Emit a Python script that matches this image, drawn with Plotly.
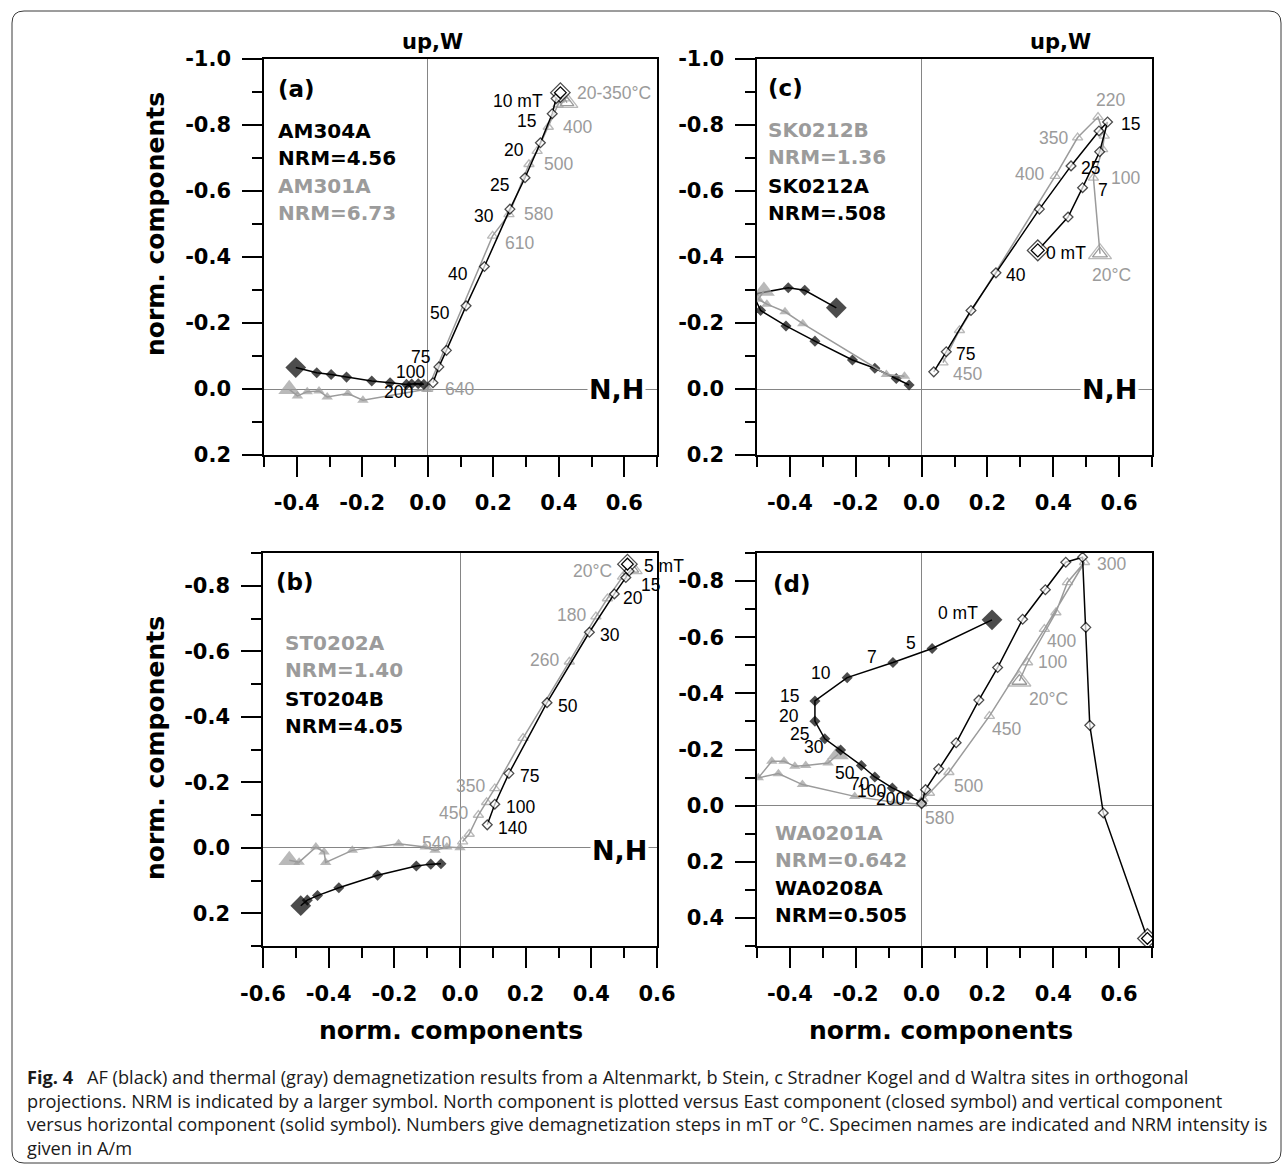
import numpy as np
import plotly.graph_objects as go

# ---------------------------------------------------------------- data
# (a) Altenmarkt: AF specimen AM304A (black), thermal specimen AM301A (gray)
a_af_h_x = [-0.403, -0.339, -0.295, -0.248, -0.171, -0.115, -0.065, -0.049, -0.029, -0.012]
a_af_h_y = [-0.065, -0.049, -0.044, -0.036, -0.024, -0.019, -0.014, -0.015, -0.016, -0.014]
a_af_v_x = [0.405, 0.392, 0.380, 0.344, 0.297, 0.251, 0.173, 0.117, 0.057, 0.034, 0.016]
a_af_v_y = [-0.898, -0.880, -0.834, -0.746, -0.640, -0.545, -0.371, -0.252, -0.117, -0.067, -0.019]
a_af_steps = ["", "10 mT", "15", "20", "25", "30", "40", "50", "75", "100", "200"]
a_th_h_x = [-0.423, -0.398, -0.368, -0.332, -0.307, -0.244, -0.198, -0.004]
a_th_h_y = [0.001, 0.021, 0.008, 0.006, 0.024, 0.014, 0.034, 0.001]
a_th_v_x = [0.425, 0.418, 0.410, 0.402, 0.398, 0.368, 0.334, 0.309, 0.248, 0.198, 0.000]
a_th_v_y = [-0.868, -0.880, -0.889, -0.876, -0.862, -0.794, -0.721, -0.681, -0.529, -0.464, 0.000]
a_th_steps = ["20-350°C", "", "", "", "", "400", "", "500", "580", "610", "640"]

# (c) Stradner Kogel: AF specimen SK0212A (black), thermal specimen SK0212B (gray)
c_af_h_x = [-0.259, -0.355, -0.405, -0.512, -0.489, -0.412, -0.324, -0.210, -0.142, -0.077, -0.038]
c_af_h_y = [-0.246, -0.299, -0.307, -0.287, -0.238, -0.191, -0.145, -0.088, -0.063, -0.032, -0.012]
c_af_v_x = [0.353, 0.445, 0.489, 0.541, 0.565, 0.539, 0.454, 0.358, 0.226, 0.150, 0.075, 0.037]
c_af_v_y = [-0.420, -0.521, -0.610, -0.719, -0.809, -0.782, -0.676, -0.545, -0.352, -0.238, -0.113, -0.052]
c_af_steps = ["0 mT", "", "7", "", "15", "", "25", "", "40", "", "75", ""]
c_th_h_x = [-0.479, -0.496, -0.470, -0.415, -0.361, -0.107, -0.052]
c_th_h_y = [-0.297, -0.272, -0.257, -0.234, -0.198, -0.044, -0.039]
c_th_v_x = [0.542, 0.522, 0.550, 0.555, 0.536, 0.474, 0.406, 0.115, 0.065]
c_th_v_y = [-0.410, -0.640, -0.726, -0.767, -0.824, -0.762, -0.645, -0.178, -0.080]
c_th_steps = ["20°C", "100", "", "", "220", "350", "400", "", "450"]

# (b) Stein: AF specimen ST0204B (black), thermal specimen ST0202A (gray)
b_af_h_x = [-0.485, -0.465, -0.434, -0.369, -0.251, -0.133, -0.089, -0.058]
b_af_h_y = [0.177, 0.160, 0.146, 0.122, 0.084, 0.056, 0.050, 0.049]
b_af_v_x = [0.510, 0.515, 0.505, 0.470, 0.394, 0.265, 0.149, 0.106, 0.083]
b_af_v_y = [-0.866, -0.845, -0.825, -0.775, -0.658, -0.443, -0.227, -0.133, -0.070]
b_af_steps = ["5 mT", "", "15", "20", "30", "50", "75", "100", "140"]
b_th_h_x = [-0.520, -0.490, -0.439, -0.414, -0.409, -0.328, -0.187, -0.106, -0.076, -0.040, 0.000]
b_th_h_y = [0.038, 0.044, -0.002, 0.013, 0.045, 0.008, -0.012, -0.002, 0.008, -0.002, 0.000]
b_th_v_x = [0.525, 0.495, 0.449, 0.414, 0.333, 0.192, 0.106, 0.081, 0.056, 0.028, 0.008]
b_th_v_y = [-0.850, -0.827, -0.761, -0.706, -0.568, -0.335, -0.181, -0.139, -0.100, -0.042, -0.019]
b_th_steps = ["20°C", "", "", "180", "260", "", "350", "", "450", "", "540"]

# (d) Waltra: AF specimen WA0208A (black), thermal specimen WA0201A (gray)
d_af_h_x = [0.214, 0.032, -0.087, -0.226, -0.324, -0.324, -0.294, -0.246, -0.183, -0.142, -0.089, -0.041, 0.000]
d_af_h_y = [-0.662, -0.560, -0.510, -0.456, -0.373, -0.301, -0.238, -0.198, -0.143, -0.102, -0.063, -0.036, -0.010]
d_af_steps = ["0 mT", "5", "7", "10", "15", "20", "25", "30", "50", "70", "100", "200", ""]
d_af_v_x = [0.686, 0.552, 0.511, 0.499, 0.489, 0.438, 0.376, 0.307, 0.231, 0.174, 0.105, 0.052, 0.012, 0.000]
d_af_v_y = [0.473, 0.026, -0.286, -0.635, -0.885, -0.867, -0.769, -0.664, -0.492, -0.376, -0.224, -0.131, -0.057, -0.007]
d_th_h_x = [-0.254, -0.284, -0.352, -0.385, -0.418, -0.455, -0.496, -0.435, -0.362, -0.203, -0.085, 0.000]
d_th_h_y = [-0.182, -0.152, -0.143, -0.140, -0.158, -0.158, -0.099, -0.114, -0.075, -0.033, -0.012, -0.005]
d_th_v_x = [0.297, 0.322, 0.408, 0.443, 0.495, 0.373, 0.206, 0.083, 0.024, 0.004]
d_th_v_y = [-0.444, -0.510, -0.688, -0.795, -0.867, -0.629, -0.319, -0.119, -0.045, -0.024]
d_th_steps = ["20°C", "100", "", "", "300", "400", "450", "500", "", "580"]

caption_lines = [
    "<b>Fig. 4</b>\u2002 AF (black) and thermal (gray) demagnetization results from a Altenmarkt, b Stein, c Stradner Kogel and d Waltra sites in orthogonal",
    "projections. NRM is indicated by a larger symbol. North component is plotted versus East component (closed symbol) and vertical component",
    "versus horizontal component (solid symbol). Numbers give demagnetization steps in mT or °C. Specimen names are indicated and NRM intensity is",
    "given in A/m",
]

# ---------------------------------------------------------------- layout helpers
W, H = 1284, 1166
BLACK = "#000000"
GRAY = "#9b9b9b"
FONT = "Liberation Sans, Arial, sans-serif"
BOLD = "DejaVu Sans, Liberation Sans, sans-serif"
CAPTION_FONT = "Open Sans, Noto Sans, sans-serif"


def fx(p):
    return p / W


def fy(p):
    return 1 - p / H


# panel key -> axis suffix, pixel box, x range, y range (top value first)
panels = {
    "a": dict(ax="", xp=(264, 657), yp=(59, 455), xr=(-0.5, 0.7), yr=(-1.0, 0.2)),
    "c": dict(ax="2", xp=(757, 1152), yp=(59, 455), xr=(-0.5, 0.7), yr=(-1.0, 0.2)),
    "b": dict(ax="3", xp=(263, 657), yp=(553, 946), xr=(-0.6, 0.6), yr=(-0.9, 0.3)),
    "d": dict(ax="4", xp=(757, 1152), yp=(553, 946), xr=(-0.5, 0.7), yr=(-0.9, 0.5)),
}


def ticks(lo, hi, step):
    n0 = int(np.ceil(round(lo / step, 6)))
    n1 = int(np.floor(round(hi / step, 6)))
    return [round(k * step, 2) for k in range(n0, n1 + 1)]


def fmt(v):
    s = f"{v:.1f}"
    return "0.0" if s == "-0.0" else s


fig = go.Figure()

tickfont = dict(family=BOLD, size=21, color=BLACK, weight="bold")
for key, p in panels.items():
    ax = p["ax"]
    common = dict(
        showline=True, mirror=True, linecolor=BLACK, linewidth=1.5,
        ticks="outside", ticklen=20, tickwidth=1.5, tickcolor=BLACK,
        tickfont=tickfont, showgrid=False, automargin=False,
        zeroline=True, zerolinecolor="#858585", zerolinewidth=1,
    )
    xmaj = ticks(p["xr"][0], p["xr"][1], 0.2)
    ymaj = ticks(p["yr"][0], p["yr"][1], 0.2)
    xmin = ticks(p["xr"][0], p["xr"][1], 0.1)
    ymin = ticks(p["yr"][0], p["yr"][1], 0.1)
    minor = dict(ticks="outside", ticklen=10, tickwidth=1.5, tickcolor=BLACK, showgrid=False)
    fig.layout[f"xaxis{ax}"] = dict(
        common, domain=[fx(p["xp"][0]), fx(p["xp"][1])], range=list(p["xr"]),
        anchor=f"y{ax}", tickmode="array", tickvals=xmaj, ticktext=[fmt(v) for v in xmaj],
        minor=dict(minor, tickmode="array", tickvals=xmin), ticklabelstandoff=8,
    )
    fig.layout[f"yaxis{ax}"] = dict(
        common, domain=[fy(p["yp"][1]), fy(p["yp"][0])], range=[p["yr"][1], p["yr"][0]],
        anchor=f"x{ax}", tickmode="array", tickvals=ymaj, ticktext=[fmt(v) for v in ymaj],
        minor=dict(minor, tickmode="array", tickvals=ymin), ticklabelstandoff=7,
    )


def series(ax, xs, ys, color, symbol, filled, small, big, inner=None):
    n = len(xs)
    if filled:
        marker = dict(symbol=symbol, color=color, size=[big] + [small] * (n - 1),
                      line=dict(width=0))
    else:
        marker = dict(symbol=symbol, color="white" if symbol == "diamond" else color,
                      size=[big] + [small] * (n - 1),
                      line=dict(color=color, width=1.3))
    fig.add_trace(go.Scatter(
        x=xs, y=ys, mode="lines+markers", xaxis=f"x{ax}", yaxis=f"y{ax}",
        line=dict(color=color, width=1.5), marker=marker, showlegend=False,
        hoverinfo="skip",
    ))
    if inner:
        # second outline inside the NRM symbol
        fig.add_trace(go.Scatter(
            x=[xs[0]], y=[ys[0]], mode="markers", xaxis=f"x{ax}", yaxis=f"y{ax}",
            marker=dict(symbol=symbol, color="white" if symbol == "diamond" else color,
                        size=inner, line=dict(color=color, width=1.3)),
            showlegend=False, hoverinfo="skip",
        ))


def labels(ax, xs, ys, steps, color, anchor, dx, dy, over=None):
    over = over or {}
    for i, s in enumerate(steps):
        if not s:
            continue
        a, sx, sy = over.get(i, (anchor, dx, dy))
        fig.add_annotation(
            x=xs[i], y=ys[i], xref=f"x{ax}", yref=f"y{ax}", text=s, showarrow=False,
            xanchor=a, yanchor="middle", xshift=sx, yshift=sy,
            font=dict(family=FONT, size=17.5, color=color),
        )


# ---- (a)
ax = panels["a"]["ax"]
series(ax, a_th_h_x, a_th_h_y, GRAY, "triangle-up", True, 10, 19)
series(ax, a_th_v_x, a_th_v_y, GRAY, "triangle-up-open", False, 9, 19, inner=12)
series(ax, a_af_h_x, a_af_h_y, BLACK, "diamond", True, 8.5, 16)
series(ax, a_af_v_x, a_af_v_y, BLACK, "diamond", False, 7.5, 15, inner=9)
labels(ax, a_af_v_x, a_af_v_y, a_af_steps, BLACK, "right", -14, -7,
       {1: ("right", -11, -2), 9: ("right", -12, -5), 10: ("right", -18, -9)})
labels(ax, a_th_v_x, a_th_v_y, a_th_steps, GRAY, "left", 13, 0,
       {0: ("left", 8, 10), 9: ("left", 10, -7), 10: ("left", 15, 0)})

# ---- (c)
ax = panels["c"]["ax"]
series(ax, c_af_h_x, c_af_h_y, BLACK, "diamond", True, 8.5, 16)
series(ax, c_th_h_x, c_th_h_y, GRAY, "triangle-up", True, 10, 19)
series(ax, c_th_v_x, c_th_v_y, GRAY, "triangle-up-open", False, 9, 20, inner=13)
series(ax, c_af_v_x, c_af_v_y, BLACK, "diamond", False, 7.5, 16, inner=10)
labels(ax, c_af_v_x, c_af_v_y, c_af_steps, BLACK, "left", 8, -2,
       {0: ("left", 6, -3), 2: ("left", 13, -2), 4: ("left", 11, -2)})
labels(ax, c_th_v_x, c_th_v_y, c_th_steps, GRAY, "left", 16, 0,
       {0: ("center", 12, -21), 4: ("center", 12, 17), 5: ("right", -8, 0),
        6: ("right", -9, 2), 8: ("left", 8, -11)})

# ---- (b)
ax = panels["b"]["ax"]
series(ax, b_th_h_x, b_th_h_y, GRAY, "triangle-up", True, 10, 19)
series(ax, b_th_v_x, b_th_v_y, GRAY, "triangle-up-open", False, 9, 17, inner=11)
series(ax, b_af_h_x, b_af_h_y, BLACK, "diamond", True, 8.5, 16)
series(ax, b_af_v_x, b_af_v_y, BLACK, "diamond", False, 7.5, 15, inner=9)
labels(ax, b_af_v_x, b_af_v_y, b_af_steps, BLACK, "left", 9, -3,
       {0: ("left", 15, -2), 2: ("left", 13, -7), 3: ("left", 7, -4)})
labels(ax, b_th_v_x, b_th_v_y, b_th_steps, GRAY, "right", -8, 2,
       {0: ("right", -18, -2), 10: ("right", -10, -1)})

# ---- (d)
ax = panels["d"]["ax"]
series(ax, d_th_h_x, d_th_h_y, GRAY, "triangle-up", True, 10, 19)
series(ax, d_th_v_x, d_th_v_y, GRAY, "triangle-up-open", False, 9, 20, inner=13)
series(ax, d_af_h_x, d_af_h_y, BLACK, "diamond", True, 8.5, 16)
series(ax, d_af_v_x, d_af_v_y, BLACK, "diamond", False, 7.5, 15, inner=9)
labels(ax, d_af_h_x, d_af_h_y, d_af_steps, BLACK, "right", -14, 5,
       {0: ("right", -12, 7), 7: ("right", -15, 3), 8: ("right", -4, -7),
        9: ("right", -3, -7), 10: ("right", -4, -3), 11: ("right", -1, -3)})
labels(ax, d_th_v_x, d_th_v_y, d_th_steps, GRAY, "left", 8, 0,
       {0: ("left", 8, -18), 4: ("left", 10, -2), 5: ("left", 1, -12),
        6: ("left", 1, -13), 7: ("left", 3, -14), 9: ("left", 0, -19)})


# ---------------------------------------------------------------- text in paper units
def text(xp, yp, s, size, color=BLACK, bold=True, anchor="left", angle=0, bg=None, family=BOLD):
    fig.add_annotation(
        x=fx(xp), y=fy(yp), xref="paper", yref="paper", text=s, showarrow=False,
        xanchor=anchor, yanchor="middle", textangle=angle,
        bgcolor=bg, borderpad=1,
        font=dict(family=family, size=size, color=color, weight="bold" if bold else "normal"),
    )


# panel letters and specimen names
text(276, 89, "(a)", 23)
text(276, 131, "AM304A", 20)
text(276, 158, "NRM=4.56", 20)
text(276, 186, "AM301A", 20, GRAY)
text(276, 213, "NRM=6.73", 20, GRAY)

text(766, 88, "(c)", 23)
text(766, 130, "SK0212B", 20, GRAY)
text(766, 157, "NRM=1.36", 20, GRAY)
text(766, 186, "SK0212A", 20)
text(766, 213, "NRM=.508", 20)

text(274, 582, "(b)", 23)
text(283, 643, "ST0202A", 20, GRAY)
text(283, 670, "NRM=1.40", 20, GRAY)
text(283, 699, "ST0204B", 20)
text(283, 726, "NRM=4.05", 20)

text(771, 584, "(d)", 23)
text(773, 833, "WA0201A", 20, GRAY)
text(773, 860, "NRM=0.642", 20, GRAY)
text(773, 888, "WA0208A", 20)
text(773, 915, "NRM=0.505", 20)

# axis direction labels
text(432, 42, "up,W", 21, anchor="center")
text(1060, 42, "up,W", 21, anchor="center")
text(646, 389, "N,H", 27, anchor="right", bg="white")
text(1139, 389, "N,H", 27, anchor="right", bg="white")
text(649, 850, "N,H", 27, anchor="right", bg="white")

# axis titles
text(155, 224, "norm. components", 25, anchor="center", angle=-90)
text(155, 748, "norm. components", 25, anchor="center", angle=-90)
text(451, 1030, "norm. components", 25, anchor="center")
text(941, 1030, "norm. components", 25, anchor="center")

# caption
for k, line in enumerate(caption_lines):
    text(25, 1077 + 23.5 * k, line, 18.2, color="#1a1a1a", bold=False, family=CAPTION_FONT)

# rounded frame around the figure
x0, x1, y0, y1, r = 12, 1281, 11, 1163, 12
path = (
    f"M {fx(x0 + r)} {fy(y0)} L {fx(x1 - r)} {fy(y0)} "
    f"Q {fx(x1)} {fy(y0)} {fx(x1)} {fy(y0 + r)} L {fx(x1)} {fy(y1 - r)} "
    f"Q {fx(x1)} {fy(y1)} {fx(x1 - r)} {fy(y1)} L {fx(x0 + r)} {fy(y1)} "
    f"Q {fx(x0)} {fy(y1)} {fx(x0)} {fy(y1 - r)} L {fx(x0)} {fy(y0 + r)} "
    f"Q {fx(x0)} {fy(y0)} {fx(x0 + r)} {fy(y0)} Z"
)
fig.add_shape(type="path", path=path, xref="paper", yref="paper",
              line=dict(color="#3a3a3a", width=1), layer="below")

fig.update_layout(
    template="none",
    width=W, height=H, margin=dict(l=0, r=0, t=0, b=0, autoexpand=False),
    paper_bgcolor="white", plot_bgcolor="white", showlegend=False,
)

fig.write_html("out.html")
